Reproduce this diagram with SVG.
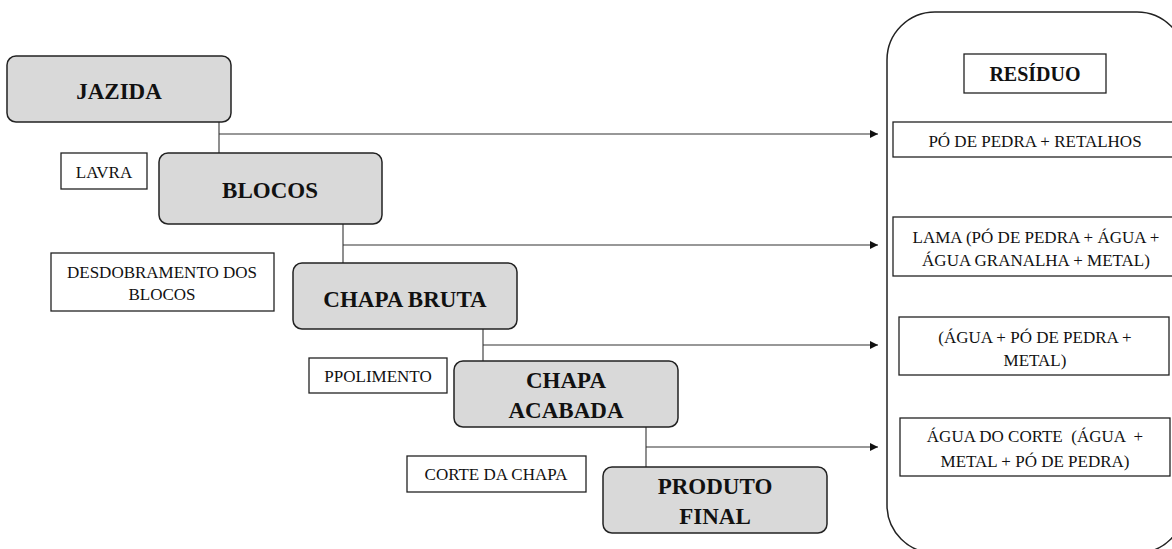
<svg xmlns="http://www.w3.org/2000/svg" width="1172" height="549" viewBox="0 0 1172 549">
<defs>
<marker id="arr" markerWidth="8" markerHeight="8" refX="8" refY="4" orient="auto" markerUnits="userSpaceOnUse">
<path d="M0,0 L8,4 L0,8 Z" fill="#111"/>
</marker>
<style>
.node{fill:#d9d9d9;stroke:#222;stroke-width:1.5}
.lbl{fill:#fff;stroke:#222;stroke-width:1.3}
.title{font-family:"Liberation Serif","Times New Roman",serif;font-weight:bold;font-size:23px;fill:#111;text-anchor:middle}
.txt{font-family:"Liberation Serif","Times New Roman",serif;font-size:17px;fill:#111;text-anchor:middle;white-space:pre}
.conn{stroke:#333;stroke-width:1.1;fill:none}
</style>
</defs>
<rect width="1172" height="549" fill="#fff"/>

<g id="residuo-panel">
<rect x="887" y="12" width="298" height="541" rx="48" ry="48" fill="none" stroke="#222" stroke-width="1.5"/>
</g>

<g id="connectors">
<path class="conn" d="M219,122 V153"/>
<path class="conn" d="M219,134 H878" marker-end="url(#arr)"/>
<path class="conn" d="M343,224 V263"/>
<path class="conn" d="M343,245 H878" marker-end="url(#arr)"/>
<path class="conn" d="M483,329 V361"/>
<path class="conn" d="M483,345 H878" marker-end="url(#arr)"/>
<path class="conn" d="M646,427 V467"/>
<path class="conn" d="M646,447 H878" marker-end="url(#arr)"/>
</g>

<g id="jazida">
<rect class="node" x="7" y="56" width="224" height="66" rx="9"/>
<text class="title" x="119" y="99">JAZIDA</text>
</g>
<g id="lavra">
<rect class="lbl" x="61" y="153" width="86" height="36"/>
<text class="txt" x="104" y="178">LAVRA</text>
</g>
<g id="blocos">
<rect class="node" x="159" y="153" width="223" height="71" rx="9"/>
<text class="title" x="270" y="198">BLOCOS</text>
</g>
<g id="desdobramento">
<rect class="lbl" x="51" y="253" width="223" height="58"/>
<text class="txt" x="162" y="278">DESDOBRAMENTO DOS</text>
<text class="txt" x="162" y="300">BLOCOS</text>
</g>
<g id="chapa-bruta">
<rect class="node" x="293" y="263" width="224" height="66" rx="9"/>
<text class="title" x="405" y="307">CHAPA BRUTA</text>
</g>
<g id="ppolimento">
<rect class="lbl" x="309" y="358" width="138" height="35"/>
<text class="txt" x="378" y="382">PPOLIMENTO</text>
</g>
<g id="chapa-acabada">
<rect class="node" x="454" y="361" width="224" height="66" rx="9"/>
<text class="title" x="566" y="388">CHAPA</text>
<text class="title" x="566" y="418">ACABADA</text>
</g>
<g id="corte-da-chapa">
<rect class="lbl" x="407" y="456" width="179" height="36"/>
<text class="txt" x="496" y="480">CORTE DA CHAPA</text>
</g>
<g id="produto-final">
<rect class="node" x="603" y="467" width="224" height="66" rx="9"/>
<text class="title" x="715" y="494">PRODUTO</text>
<text class="title" x="715" y="524">FINAL</text>
</g>

<g id="residuo">
<rect class="lbl" x="964" y="54" width="142" height="39"/>
<text class="title" x="1035" y="81" style="font-size:20px">RESÍDUO</text>
</g>
<g id="res1">
<rect class="lbl" x="893" y="122" width="285" height="35"/>
<text class="txt" x="1035" y="147">PÓ DE PEDRA + RETALHOS</text>
</g>
<g id="res2">
<rect class="lbl" x="893" y="217" width="285" height="59"/>
<text class="txt" x="1036" y="243">LAMA (PÓ DE PEDRA + ÁGUA +</text>
<text class="txt" x="1036" y="266">ÁGUA GRANALHA + METAL)</text>
</g>
<g id="res3">
<rect class="lbl" x="899" y="317" width="270" height="58"/>
<text class="txt" x="1035" y="343">(ÁGUA + PÓ DE PEDRA +</text>
<text class="txt" x="1035" y="366">METAL)</text>
</g>
<g id="res4">
<rect class="lbl" x="900" y="418" width="270" height="58"/>
<text class="txt" x="1035" y="442">ÁGUA DO CORTE  (ÁGUA  +</text>
<text class="txt" x="1035" y="467">METAL + PÓ DE PEDRA)</text>
</g>
</svg>
